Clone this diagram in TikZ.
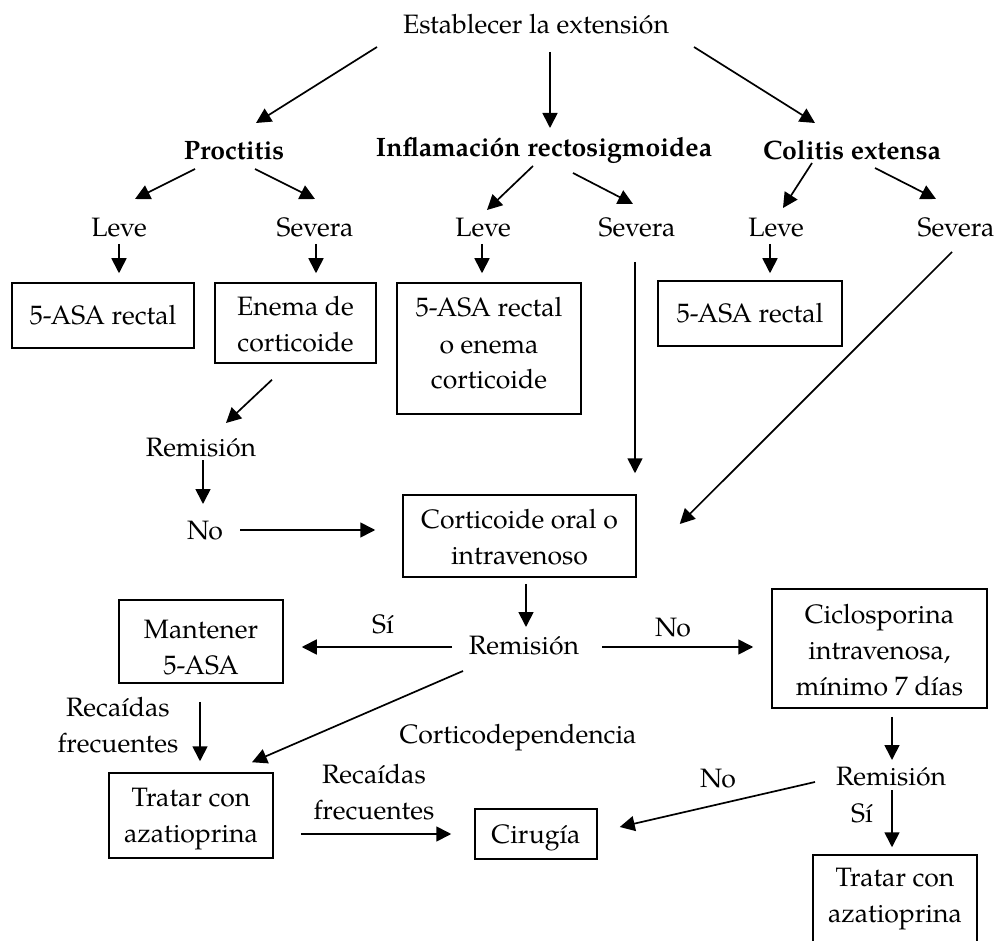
\documentclass[tikz,border=0pt]{standalone}
\usepackage{fontspec}
\setmainfont{TeX Gyre Pagella}
\usetikzlibrary{arrows.meta,calc}
\newcommand{\mlines}[1]{\begin{tabular}[t]{@{}c@{}}#1\end{tabular}}
\tikzset{
  txt/.style={inner sep=0pt, anchor=base, font=\fontsize{26.6}{36}\selectfont},
  bld/.style={txt, font=\fontsize{26.6}{36}\selectfont\bfseries},
  box/.style={draw, line width=1.5pt, inner sep=0pt, anchor=base, font=\fontsize{26.6}{36}\selectfont},
  arr/.style={-{Triangle[length=15pt,width=15pt]}, line width=1.7pt}
}
\begin{document}
\begin{tikzpicture}[x=1pt,y=-1pt]
\useasboundingbox (0,0) rectangle (999,941);
\clip (0,0) rectangle (999,941);
% text nodes
\node[txt] (est) at (536,34) {Establecer la extensión};
\node[bld] (proc) at (234,160) {Proctitis};
\node[bld] (infl) at (544,157) {Inflamación rectosigmoidea};
\node[bld] (col) at (852,160) {Colitis extensa};
\node[txt] (leve1) at (119,237) {Leve};
\node[txt] (sev1) at (315,237) {Severa};
\node[txt] (leve2) at (483,237) {Leve};
\node[txt] (sev2) at (637,237) {Severa};
\node[txt] (leve3) at (776,237) {Leve};
\node[txt] (sev3) at (956,237) {Severa};
\node[txt] (rem1) at (201,456) {Remisión};
\node[txt] (no1) at (205,539) {No};
\node[txt] (rem2) at (524,654) {Remisión};
\node[txt] (si1) at (383,633) {Sí};
\node[txt] (no2) at (673,636) {No};
\node[txt] (rec1) at (118,716) {\mlines{Recaídas\\frecuentes}};
\node[txt] (cort) at (518,743) {Corticodependencia};
\node[txt] (rec2) at (374,783) {\mlines{Recaídas\\frecuentes}};
\node[txt] (rem3) at (891,785) {Remisión};
\node[txt] (no3) at (718,787) {No};
\node[txt] (si3) at (862,822) {Sí};
% boxes (anchored at first baseline; text height/depth give top/bottom)
\node[box, minimum width=182pt, text height=42pt, text depth=23pt] (b1) at (103,325) {5-ASA rectal};
\node[box, minimum width=161pt, text height=33pt, text depth=47pt] (b2) at (295.5,316) {\mlines{Enema de\\corticoide}};
\node[box, minimum width=184pt, text height=34pt, text depth=97pt] (b3) at (489,317) {\mlines{5-ASA rectal\\o enema\\corticoide}};
\node[box, minimum width=184pt, text height=42pt, text depth=23pt] (b4) at (750,323) {5-ASA rectal};
\node[box, minimum width=233pt, text height=33pt, text depth=49pt] (b5) at (519.5,528) {\mlines{Corticoide oral o\\intravenoso}};
\node[box, minimum width=164pt, text height=38pt, text depth=45pt] (b6) at (201,638) {\mlines{Mantener\\5-ASA}};
\node[box, minimum width=215pt, text height=34pt, text depth=85pt] (b7) at (879.5,623) {\mlines{Ciclosporina\\intravenosa,\\mínimo 7 días}};
\node[box, minimum width=164pt, text height=33pt, text depth=52pt] (b8) at (191,806) {\mlines{Tratar con\\azatioprina}};
\node[box, minimum width=122pt, text height=34pt, text depth=16pt] (b9) at (536,843) {Cirugía};
\node[box, minimum width=164pt, text height=31pt, text depth=90pt] (b10) at (895,886) {\mlines{Tratar con\\azatioprina}};
% arrows
\draw[arr] ($(est.base)+(-159,13)$) -- ($(proc.base)+(22,-37)$);
\draw[arr] ($(est.base)+(14,18)$) -- ($(infl.base)+(6,-29)$);
\draw[arr] ($(est.base)+(158,13)$) -- ($(col.base)+(-37,-37)$);
\draw[arr] ($(proc.base)+(-39,9)$) -- ($(leve1.base)+(16,-38)$);
\draw[arr] ($(proc.base)+(21,9)$) -- ($(sev1.base)+(0,-38)$);
\draw[arr] ($(infl.base)+(-11,9)$) -- ($(leve2.base)+(4,-27)$);
\draw[arr] ($(infl.base)+(29,16)$) -- ($(sev2.base)+(-4,-33)$);
\draw[arr] ($(col.base)+(-40,3)$) -- ($(leve3.base)+(7,-29)$);
\draw[arr] ($(col.base)+(23,8)$) -- ($(sev3.base)+(-20,-38)$);
\draw[arr] ($(leve1.base)+(0,7)$) -- ($(leve1.base |- b1.north)+(0,-9)$);
\draw[arr] ($(sev1.base)+(1,7)$) -- ($(sev1.base |- b2.north)+(1,-9)$);
\draw[arr] ($(leve2.base)+(-1,7)$) -- ($(leve2.base |- b3.north)+(-1,-9)$);
\draw[arr] ($(leve3.base)+(-6,7)$) -- ($(leve3.base |- b4.north)+(-6,-7)$);
\draw[arr] ($(sev2.base)+(-2,25)$) -- ($(sev2.base |- b5.north)+(-2,-21)$);
\draw[arr] ($(sev3.base)+(-4,15)$) -- ($(b5.east)+(43,-12)$);
\draw[arr] ($(b2.south)+(-23.5,16)$) -- ($(rem1.base)+(25,-33)$);
\draw[arr] ($(rem1.base)+(2,4)$) -- ($(no1.base)+(-2,-35)$);
\draw[arr] ($(no1.base)+(35,-9)$) -- ($(b5.west)+(-27,-6)$);
\draw[arr] ($(b5.south)+(6.5,6)$) -- ($(rem2.base)+(2,-27)$);
\draw[arr] ($(rem2.base)+(-72,-7)$) -- ($(b6.east)+(18,5.5)$);
\draw[arr] ($(rem2.base)+(78,-7)$) -- ($(b7.west)+(-18,-1.5)$);
\draw[arr] ($(rem2.base)+(-61,17)$) -- ($(b8.north)+(61,-10)$);
\draw[arr] ($(b6.south)+(-1,18)$) -- ($(b8.north)+(9,-11)$);
\draw[arr] ($(b8.east)+(27,18.5)$) -- ($(b9.west)+(-23,0)$);
\draw[arr] ($(b7.south)+(12.5,8)$) -- ($(rem3.base)+(1,-25)$);
\draw[arr] ($(rem3.base)+(-76,-3)$) -- ($(b9.east)+(22,-7)$);
\draw[arr] ($(rem3.base)+(1,5)$) -- ($(b10.north)+(-3,-7)$);
\end{tikzpicture}
\end{document}
